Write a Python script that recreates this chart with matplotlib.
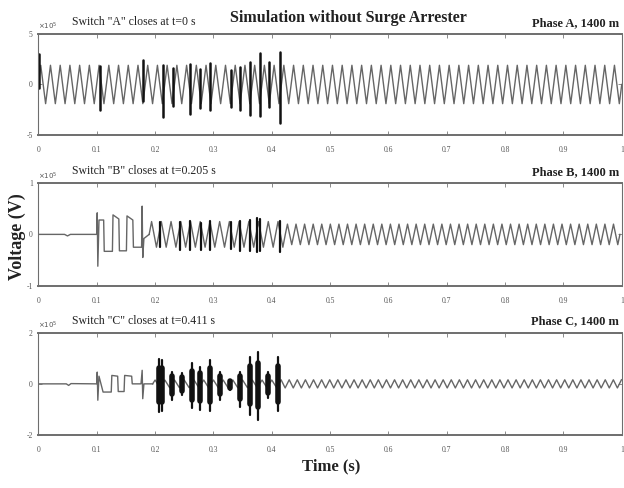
import numpy as np
import matplotlib
matplotlib.use('Agg')
import matplotlib.pyplot as plt

plt.rcParams['font.family'] = ['Liberation Serif', 'DejaVu Serif']

# ---------------- data ----------------
x_ticks = [0, 0.1, 0.2, 0.3, 0.4, 0.5, 0.6, 0.7, 0.8, 0.9, 1.0]
x_tick_labels = ['0', '0.1', '0.2', '0.3', '0.4', '0.5', '0.6', '0.7', '0.8', '0.9', '1']

# Phase A (units of 1e5 V)
a_y_ticks = [-5, 0, 5]
a_sine_start = 0.0
a_seg_freq = [60]
a_seg_amp = [[1.9] * 60]
a_burst_t = [0.002, 0.106, 0.18, 0.214, 0.23, 0.26, 0.277, 0.295, 0.33, 0.346, 0.363, 0.38, 0.395, 0.414]
a_burst_hi = [3.0, 1.8, 2.4, 1.9, 1.6, 2.0, 1.5, 2.1, 1.4, 1.7, 2.2, 3.1, 2.2, 3.2]
a_burst_lo = [-0.3, -2.5, -1.6, -3.2, -2.1, -2.9, -2.3, -2.5, -2.2, -2.5, -3.0, -3.1, -2.2, -3.8]

# Phase B
b_y_ticks = [-1, 0, 1]
b_pre_t = [0, 0.045, 0.05, 0.055, 0.1, 0.101, 0.102, 0.104, 0.112, 0.113, 0.127, 0.128,
           0.138, 0.139, 0.151, 0.152, 0.162, 0.163, 0.177, 0.178, 0.179, 0.181, 0.19]
b_pre_v = [0, 0, -0.03, 0, 0, 0.42, -0.62, 0.28, 0.28, -0.33, -0.33, 0.38,
           0.30, -0.32, -0.32, 0.36, 0.28, -0.25, -0.25, 0.55, -0.45, -0.08, 0]
b_sine_start = 0.19
b_seg_freq = [60, 68]
b_seg_amp = [[0.25] * 14, [0.2] * 40]
b_burst_t = [0.209, 0.243, 0.26, 0.278, 0.294, 0.33, 0.346, 0.363, 0.375, 0.38, 0.414]
b_burst_hi = [0.25, 0.24, 0.26, 0.22, 0.27, 0.24, 0.26, 0.28, 0.31, 0.30, 0.27]
b_burst_lo = [-0.24, -0.30, -0.30, -0.30, -0.30, -0.28, -0.32, -0.33, -0.34, -0.33, -0.34]

# Phase C
c_y_ticks = [-2, 0, 2]
c_pre_t = [0, 0.048, 0.052, 0.056, 0.1, 0.101, 0.102, 0.104, 0.111, 0.125, 0.126, 0.136,
           0.137, 0.147, 0.148, 0.160, 0.161, 0.176, 0.178, 0.179, 0.181, 0.196]
c_pre_v = [0, 0, -0.06, 0.01, 0, 0.46, -0.64, 0.30, -0.32, -0.32, 0.33, 0.30,
           -0.30, -0.30, 0.33, 0.30, 0.0, 0.0, 0.53, -0.58, 0.0, 0]
c_sine_start = 0.196
c_seg_freq = [60, 72]
c_seg_amp = [[0.15] * 13, [0.16] * 43]
c_burst_t = [0.207, 0.212, 0.229, 0.246, 0.263, 0.277, 0.294, 0.312, 0.329, 0.346, 0.363, 0.377, 0.394, 0.411]
c_burst_hi = [0.98, 0.93, 0.48, 0.41, 0.80, 0.67, 0.93, 0.48, 0.15, 0.48, 1.06, 1.25, 0.48, 1.06]
c_burst_lo = [-1.1, -1.08, -0.63, -0.43, -0.95, -1.02, -1.08, -0.63, -0.24, -0.89, -1.21, -1.41, -0.57, -1.08]

titles_left = ['Switch "A" closes at t=0 s', 'Switch "B" closes at t=0.205 s', 'Switch "C" closes at t=0.411 s']
titles_right = ['Phase A, 1400 m', 'Phase B, 1400 m', 'Phase C, 1400 m']


def carrier(start, freqs, amp_lists):
    ts, vs = [], []
    t0 = start
    for f, amps in zip(freqs, amp_lists):
        pattern = []
        for a in amps:
            pattern += [0.0, a, 0.0, -a]
        t = t0 + np.arange(len(pattern)) / (4.0 * f)
        ts.append(t)
        vs.append(np.array(pattern))
        t0 = t0 + len(amps) / f
    ts.append(np.array([t0]))
    vs.append(np.array([0.0]))
    t = np.concatenate(ts)
    v = np.concatenate(vs)
    keep = t <= 1.0
    return t[keep], v[keep]


fig = plt.figure(figsize=(6.24, 4.88), dpi=100)
rects = [[0.0614, 0.7234, 0.935, 0.207],
         [0.0614, 0.4145, 0.935, 0.2104],
         [0.0614, 0.1086, 0.935, 0.2096]]

panels = [
    (a_y_ticks, None, None, a_sine_start, a_seg_freq, a_seg_amp, a_burst_t, a_burst_hi, a_burst_lo, 1.8),
    (b_y_ticks, b_pre_t, b_pre_v, b_sine_start, b_seg_freq, b_seg_amp, b_burst_t, b_burst_hi, b_burst_lo, 1.6),
    (c_y_ticks, c_pre_t, c_pre_v, c_sine_start, c_seg_freq, c_seg_amp, c_burst_t, c_burst_hi, c_burst_lo, 1.6),
]

line_col = '#666666'
for i, (yt, pt, pv, s0, fr, amps, bt, bhi, blo, blw) in enumerate(panels):
    ax = fig.add_axes(rects[i])
    if pt is not None:
        ax.plot(pt, pv, color=line_col, lw=1.0)
    ct, cv = carrier(s0, fr, amps)
    ax.plot(ct, cv, color=line_col, lw=1.0)
    ax.vlines(bt, blo, bhi, color='#111111', lw=blw, capstyle='round')
    if i == 2:
        # spindle-shaped bursts: thicker core
        ax.vlines(bt, np.array(blo) * 0.65, np.array(bhi) * 0.65, color='#111111',
                  lw=4.0, capstyle='round')
    ax.set_xlim(0, 1)
    ax.set_ylim(yt[0], yt[-1])
    ax.set_xticks(x_ticks)
    ax.set_xticklabels(x_tick_labels)
    ax.set_yticks(yt)
    ax.set_yticklabels([str(v) for v in yt])
    ax.tick_params(direction='in', length=3, width=0.6, colors='#777777',
                   labelsize=5.5, labelcolor='#555555', top=True, right=True)
    ax.tick_params(axis='x', pad=8)
    ax.tick_params(axis='y', pad=4)
    for side, sp in ax.spines.items():
        sp.set_color('#6e6e6e')
        sp.set_linewidth(1.4 if side in ('top', 'bottom') else 0.8)
    ax.text(0.0, 1.015, r'$\times10^5$', transform=ax.transAxes, fontsize=5,
            color='#555555', ha='left', va='bottom')
    ax.text(0.058, 1.06, titles_left[i], transform=ax.transAxes, fontsize=8.5,
            ha='left', va='bottom', color='#222222')
    ax.text(0.995, 1.05, titles_right[i], transform=ax.transAxes, fontsize=9,
            fontweight='bold', ha='right', va='bottom', color='#222222')

fig.text(0.5585, 0.963, 'Simulation without Surge Arrester', fontsize=11.5,
         fontweight='bold', ha='center', va='center', color='#222222')
fig.text(0.53, 0.045, 'Time (s)', fontsize=12, fontweight='bold',
         ha='center', va='center', color='#222222')
fig.text(0.027, 0.515, 'Voltage (V)', fontsize=13, fontweight='bold',
         rotation=90, ha='center', va='center', color='#222222')

fig.savefig('out.png', dpi=100)
